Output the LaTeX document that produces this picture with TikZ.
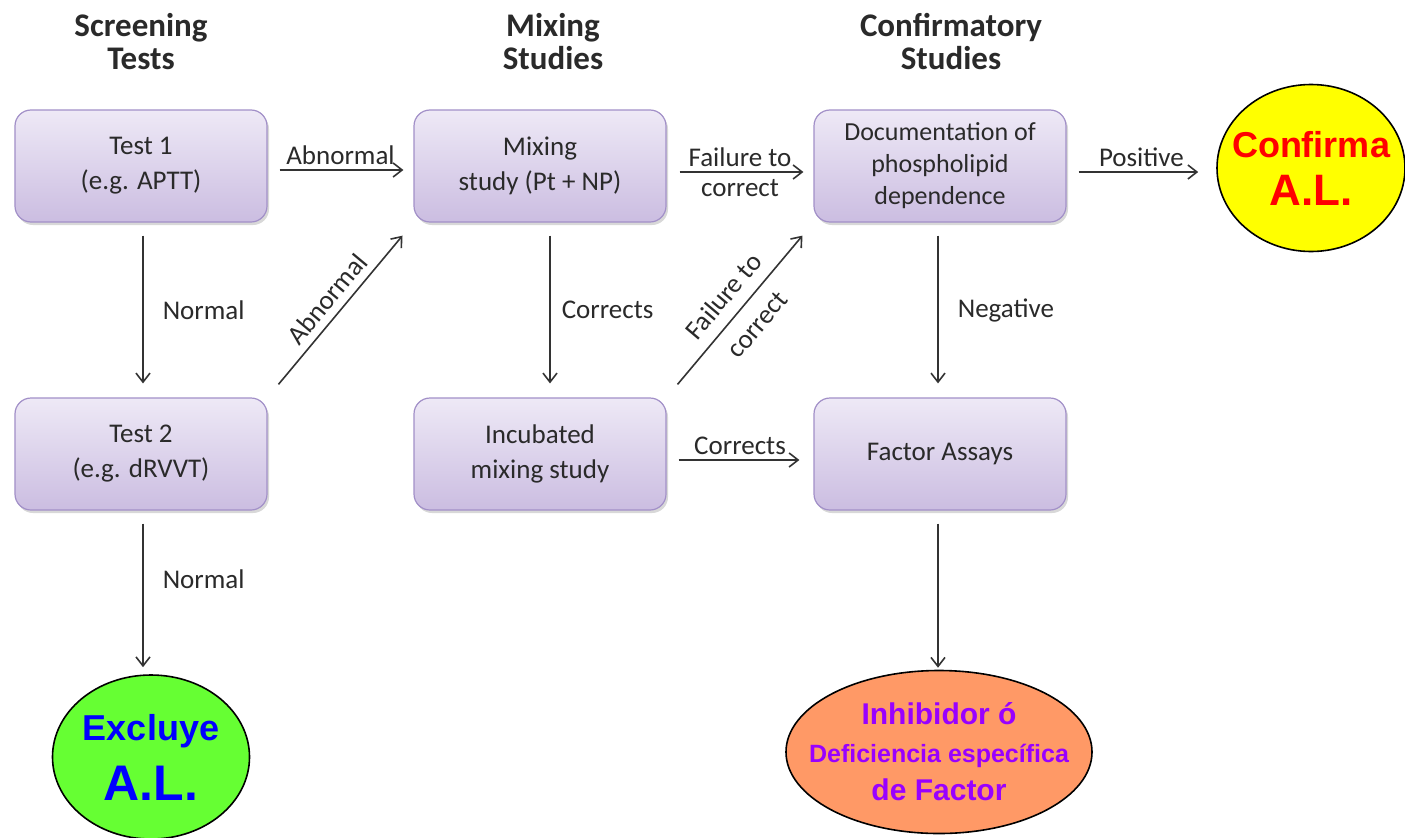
\documentclass[tikz,border=0pt]{standalone}
\usepackage{fontspec}
\setmainfont{Carlito}
\newfontfamily\arialfont{Liberation Sans}
\usetikzlibrary{shapes.geometric,arrows.meta,shadows,calc}
\definecolor{boxtop}{HTML}{EEE9F6}
\definecolor{boxbot}{HTML}{CBBDE1}
\definecolor{boxline}{HTML}{A290C8}
\definecolor{txt}{HTML}{2A2A2A}
\definecolor{yel}{HTML}{FFFF00}
\definecolor{grn}{HTML}{66FF33}
\definecolor{org}{HTML}{FF9966}
\definecolor{purp}{HTML}{9900FF}
\begin{document}
\begin{tikzpicture}[x=1bp,y=-1bp,
  stepbox/.style={draw=boxline,line width=1.2bp,rounded corners=16bp,
    top color=boxtop,bottom color=boxbot,minimum width=252bp,minimum height=112bp,
    align=center,text=txt,inner sep=0pt,
    font=\fontsize{27bp}{35bp}\selectfont,
    drop shadow={shadow xshift=2bp,shadow yshift=-3bp,fill=black!30,opacity=.5}},
  hdr/.style={align=center,text=txt,font=\bfseries\fontsize{33bp}{33bp}\selectfont},
  lbl/.style={text=txt,font=\fontsize{27bp}{30bp}\selectfont,align=center,inner sep=1bp},
  conn/.style={draw=black!80,line width=1.6bp,-{Straight Barb[length=9bp,width=14bp,line width=1.6bp]}},
  oval/.style={ellipse,draw=black,line width=1.6bp,inner ysep=0pt,inner xsep=-30bp,align=center}
]
\useasboundingbox (0,0) rectangle (1405,837);
\clip (0,0) rectangle (1405,837);
\fill[white] (0,0) rectangle (1405,837);

% headers
\node[hdr] (h1) at (141,42) {Screening\\Tests};
\node[hdr] (h2) at (553,42) {Mixing\\Studies};
\node[hdr] (h3) at (951,42) {Confirmatory\\Studies};

% boxes
\node[stepbox] (t1) at (141,166) {Test 1\\(e.g. APTT)};
\node[stepbox] (mix) at (540,166) {Mixing\\study (Pt + NP)};
\node[stepbox,font=\fontsize{26bp}{32bp}\selectfont] (doc) at (940,166) {Documentation of\\phospholipid\\dependence};
\node[stepbox] (t2) at (141,454) {Test 2\\(e.g. dRVVT)};
\node[stepbox] (inc) at (540,454) {Incubated\\mixing study};
\node[stepbox] (fac) at (940,454) {Factor Assays};

% ovals
\node[oval,fill=yel,minimum width=188bp,minimum height=167bp,text=red,
  font=\arialfont\bfseries\fontsize{36bp}{48bp}\selectfont] (conf) at (1311,168)
  {Confirma\\\fontsize{44bp}{48bp}\selectfont A.L.};
\node[oval,fill=grn,minimum width=197bp,minimum height=164bp,text=blue,
  font=\arialfont\bfseries\fontsize{36bp}{60bp}\selectfont] (excl) at (151,757)
  {Excluye\\\fontsize{50bp}{60bp}\selectfont A.L.};
\node[oval,fill=org,minimum width=306bp,minimum height=163bp,text=purp,
  font=\arialfont\bfseries\fontsize{30bp}{38bp}\selectfont] (inh) at (939,752)
  {Inhibidor ó\\\fontsize{25bp}{38bp}\selectfont Deficiencia específica\\de Factor};

% connectors
\draw[conn,shorten <=12bp,shorten >=10bp] ([yshift=-4bp]t1.east) -- ([yshift=-4bp]mix.west)
  node[lbl,midway,above=4bp] (l1) {Abnormal};
\draw[conn,shorten <=13bp,shorten >=10bp] ([yshift=-6bp]mix.east) -- ([yshift=-6bp]doc.west)
  node[lbl,midway] (l2) {Failure to\\correct};
\draw[conn,shorten <=12bp,shorten >=18bp] ([yshift=-6bp]doc.east) -- ([yshift=-6bp]doc.east -| conf.west)
  node[lbl,midway,above=4bp] (l3) {Positive};
\draw[conn,shorten <=13bp,shorten >=14bp] ([xshift=2bp]t1.south) -- ([xshift=2bp]t2.north)
  node[lbl,midway,right=18bp] (l4) {Normal};
\draw[conn,shorten <=13bp,shorten >=7bp] ([xshift=2bp]t2.south) -- ([xshift=2bp]t2.south |- excl.north)
  node[lbl,midway,right=18bp,yshift=13bp] (l5) {Normal};
\draw[conn,shorten <=17bp,shorten >=17bp] (t2.north east) -- (mix.south west)
  node[lbl,midway,above=6bp,sloped] (l6) {Abnormal};
\draw[conn,shorten <=13bp,shorten >=14bp] ([xshift=10bp]mix.south) -- ([xshift=10bp]inc.north)
  node[lbl,midway,right=10bp] (l7) {Corrects};
\draw[conn,shorten <=17bp,shorten >=17bp] (inc.north east) -- (doc.south west)
  node[lbl,midway,sloped,font=\fontsize{27bp}{44bp}\selectfont] (l8) {Failure to\\correct};
\draw[conn,shorten <=12bp,shorten >=14bp] ([yshift=-6bp]inc.east) -- ([yshift=-6bp]fac.west)
  node[lbl,midway,above=4bp] (l9) {Corrects};
\draw[conn,shorten <=13bp,shorten >=14bp] ([xshift=-2bp]doc.south) -- ([xshift=-2bp]fac.north)
  node[lbl,midway,right=18bp] (l10) {Negative};
\draw[conn,shorten <=13bp,shorten >=2bp] ([xshift=-2bp]fac.south) -- ([xshift=-2bp]fac.south |- inh.north);
\end{tikzpicture}
\end{document}
